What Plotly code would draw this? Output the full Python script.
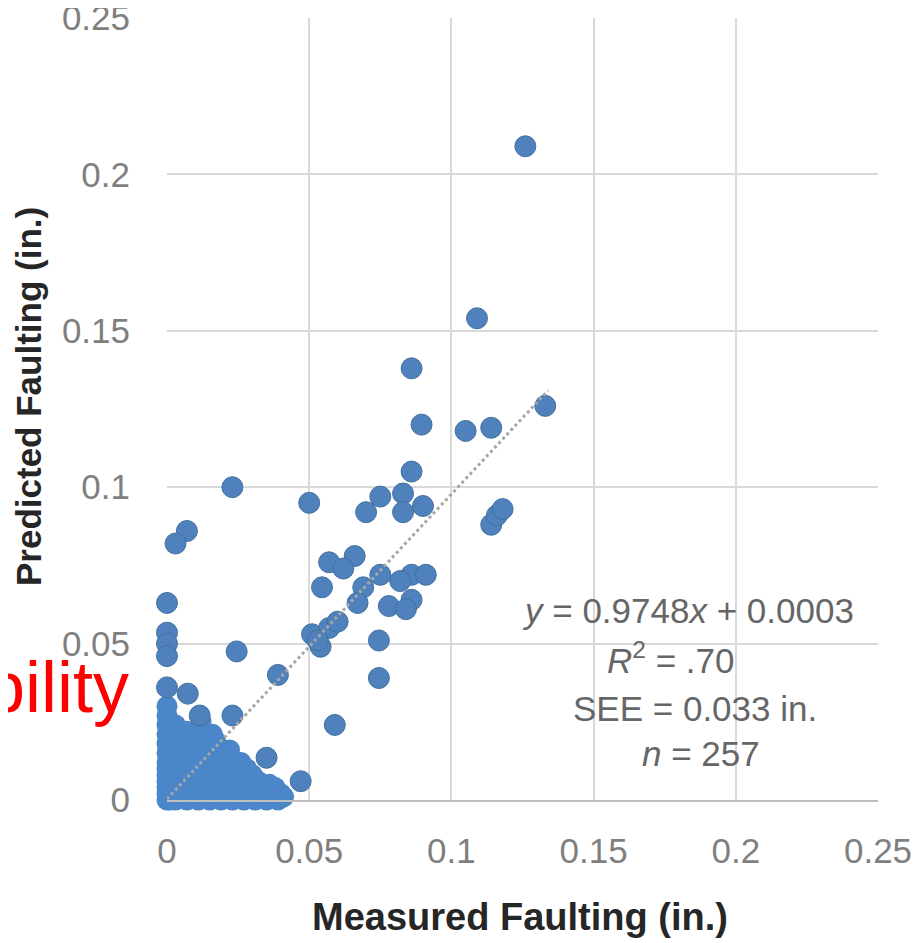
import plotly.graph_objects as go

# ---- data ----
scatter_measured = [
    0.126, 0.109, 0.133, 0.086, 0.0895, 0.105, 0.114, 0.086, 0.114, 0.116, 0.118,
    0.023, 0.050, 0.007, 0.003,
    0.070, 0.075, 0.083, 0.083, 0.090,
    0.057, 0.066, 0.062, 0.0545, 0.069, 0.075, 0.067, 0.078, 0.086, 0.091, 0.086, 0.084, 0.082,
    0.051, 0.057, 0.054, 0.060, 0.053, 0.0745, 0.0745, 0.059,
    0.0245, 0.039, 0.023, 0.035, 0.047,
    0.0, 0.0, 0.0, 0.0, 0.0, 0.0073, 0.0115,
]
scatter_predicted = [
    0.209, 0.154, 0.126, 0.138, 0.120, 0.118, 0.119, 0.105, 0.088, 0.091, 0.093,
    0.100, 0.095, 0.086, 0.082,
    0.092, 0.097, 0.098, 0.092, 0.094,
    0.076, 0.078, 0.074, 0.068, 0.068, 0.072, 0.063, 0.062, 0.072, 0.072, 0.064, 0.061, 0.070,
    0.053, 0.055, 0.049, 0.057, 0.051, 0.051, 0.039, 0.024,
    0.0475, 0.040, 0.027, 0.0135, 0.006,
    0.063, 0.0535, 0.050, 0.046, 0.036, 0.034, 0.027,
]

# dense cluster near the origin
cluster_measured = [
    0.0, 0.0, 0.0, 0.0, 0.0, 0.0, 0.0, 0.0, 0.0, 0.0, 0.0, 0.0, 0.0,
    0.001, 0.001, 0.001, 0.001, 0.001, 0.001, 0.001,
    0.002, 0.002, 0.002, 0.002, 0.002, 0.002,
    0.003, 0.003, 0.003, 0.003, 0.003, 0.003,
    0.005, 0.005, 0.005, 0.005, 0.005,
    0.007, 0.007, 0.007, 0.007, 0.007, 0.007,
    0.009, 0.009, 0.009, 0.009,
    0.011, 0.011, 0.011, 0.011, 0.011, 0.012,
    0.013, 0.013, 0.013, 0.013,
    0.015, 0.015, 0.015, 0.015, 0.016,
    0.017, 0.017, 0.017, 0.017,
    0.019, 0.019, 0.019, 0.020,
    0.021, 0.021, 0.021,
    0.023, 0.023, 0.023, 0.022,
    0.025, 0.025, 0.026,
    0.027, 0.027, 0.028,
    0.029, 0.029, 0.030,
    0.031, 0.031, 0.032,
    0.033, 0.033,
    0.035, 0.035, 0.036,
    0.037, 0.038,
    0.039, 0.040,
    0.041,
]
cluster_predicted = [
    0.0, 0.002, 0.004, 0.006, 0.008, 0.010, 0.012, 0.015, 0.018, 0.021, 0.024, 0.027, 0.030,
    0.0, 0.003, 0.007, 0.011, 0.016, 0.020, 0.025,
    0.001, 0.005, 0.009, 0.013, 0.018, 0.022,
    0.0, 0.004, 0.008, 0.014, 0.019, 0.024,
    0.001, 0.006, 0.011, 0.016, 0.021,
    0.0, 0.004, 0.009, 0.013, 0.018, 0.022,
    0.002, 0.007, 0.012, 0.017,
    0.0, 0.005, 0.010, 0.015, 0.020, 0.025,
    0.002, 0.008, 0.013, 0.018,
    0.0, 0.004, 0.010, 0.016, 0.021,
    0.002, 0.007, 0.012, 0.019,
    0.0, 0.005, 0.010, 0.016,
    0.002, 0.008, 0.014,
    0.0, 0.005, 0.011, 0.016,
    0.002, 0.008, 0.012,
    0.0, 0.005, 0.010,
    0.001, 0.004, 0.008,
    0.0, 0.003, 0.006,
    0.001, 0.004,
    0.0, 0.003, 0.005,
    0.001, 0.004,
    0.0, 0.002,
    0.001,
]

trend_slope = 0.9748
trend_intercept = 0.0003
trend_x_range = [0.0, 0.134]

axis_ticks = [0, 0.05, 0.1, 0.15, 0.2, 0.25]
axis_tick_labels = ["0", "0.05", "0.1", "0.15", "0.2", "0.25"]

stats_lines = [
    "<i>y</i> = 0.9748<i>x</i> + 0.0003",
    "<i>R</i><sup>2</sup> = .70",
    "SEE = 0.033 in.",
    "<i>n</i> = 257",
]

x_title = "Measured Faulting (in.)"
y_title = "Predicted Faulting (in.)"
overlay_text = "bility"

# ---- layout geometry ----
# the page body has an 8px margin, so the figure is drawn 8px in from the corner
PAGE_OFF = 8
W, H = 922 - PAGE_OFF, 943 - PAGE_OFF
L, T = 167 - PAGE_OFF, 18 - PAGE_OFF
PW, PH = 878 - 167, 800 - 18
R = W - L - PW
B = H - T - PH


def px_x(page_px):
    return (page_px - PAGE_OFF - L) / PW


def px_y(page_py):
    return (H - B - (page_py - PAGE_OFF)) / PH


# ---- figure ----
fig = go.Figure()
fig.add_trace(go.Scatter(
    x=cluster_measured, y=cluster_predicted, mode="markers",
    marker=dict(size=21, color="#4A86C8", line=dict(color="#4A86C8", width=0)),
    cliponaxis=False, hoverinfo="skip", showlegend=False,
))
fig.add_trace(go.Scatter(
    x=scatter_measured, y=scatter_predicted, mode="markers",
    marker=dict(size=21, color="#4F81BD", line=dict(color="#43709F", width=1)),
    cliponaxis=False, hoverinfo="skip", showlegend=False,
))
trend_y = [trend_slope * v + trend_intercept for v in trend_x_range]
fig.add_trace(go.Scatter(
    x=trend_x_range, y=trend_y, mode="lines",
    line=dict(color="#A6A6A6", width=3, dash="dot"),
    hoverinfo="skip", showlegend=False,
))

tick_font = dict(family="Liberation Sans, Arial, sans-serif", size=35, color="#7F7F7F")

fig.update_layout(
    width=W, height=H,
    margin=dict(l=L, r=R, t=T, b=B, pad=0),
    paper_bgcolor="white", plot_bgcolor="white",
    font=dict(family="Liberation Sans, Arial, sans-serif"),
    xaxis=dict(
        range=[0, 0.25], tickvals=axis_ticks, ticktext=axis_tick_labels,
        showgrid=True, gridcolor="#D9D9D9", gridwidth=2,
        zeroline=False, showline=True, linecolor="#BFBFBF", linewidth=2,
        tickfont=tick_font, ticks="", ticklabelstandoff=19, automargin=False,
        ticklabeloverflow="allow",
    ),
    yaxis=dict(
        range=[0, 0.25], tickvals=axis_ticks, ticktext=axis_tick_labels,
        showgrid=True, gridcolor="#D9D9D9", gridwidth=2,
        zeroline=False, showline=False,
        tickfont=tick_font, ticks="", ticklabelstandoff=36, automargin=False,
        ticklabeloverflow="allow",
    ),
)

# axis titles
fig.add_annotation(
    text="<b>" + x_title + "</b>", xref="paper", yref="paper",
    x=px_x(520), y=px_y(917), xanchor="center", yanchor="middle", showarrow=False,
    font=dict(family="Liberation Sans, Arial, sans-serif", size=38, color="#262626"),
)
fig.add_annotation(
    text="<b>" + y_title + "</b>", xref="paper", yref="paper",
    x=px_x(29), y=px_y(397), xanchor="center", yanchor="middle", showarrow=False,
    textangle=-90,
    font=dict(family="Liberation Sans, Arial, sans-serif", size=35, color="#262626"),
)

# regression statistics
line_x_px = [688, 670, 695, 701]
line_y_px = [610, 658, 708, 753]
for txt, xp, yp in zip(stats_lines, line_x_px, line_y_px):
    fig.add_annotation(
        text=txt, xref="paper", yref="paper",
        x=px_x(xp), y=px_y(yp), xanchor="center", yanchor="middle", showarrow=False,
        font=dict(family="Liberation Sans, Arial, sans-serif", size=35, color="#666666"),
    )

# red overlay text at the left edge
fig.add_annotation(
    text=overlay_text, xref="paper", yref="paper",
    x=px_x(131), y=px_y(687), xanchor="right", yanchor="middle", showarrow=False,
    font=dict(family="Liberation Sans, Arial, sans-serif", size=72, color="#FF0000"),
)

fig.write_html("out.html")
